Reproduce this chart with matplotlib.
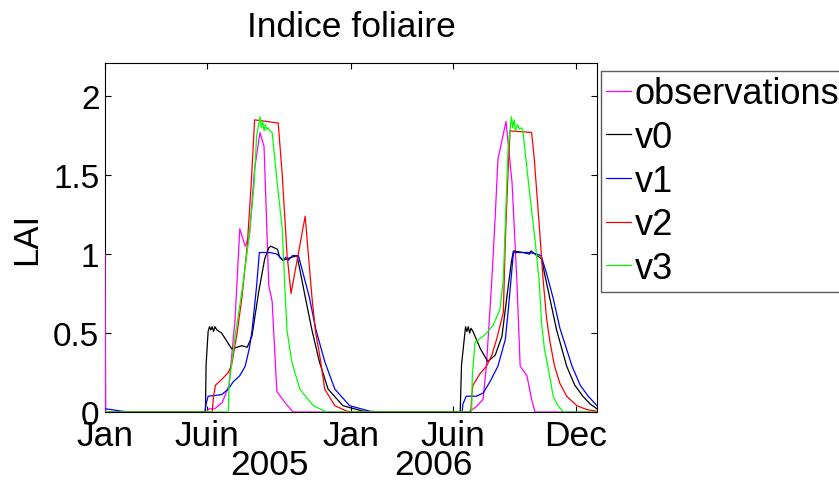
import numpy as np
import matplotlib
matplotlib.use("Agg")
import matplotlib.pyplot as plt
import matplotlib.dates as mdates

plt.rcParams['font.family'] = ['Liberation Sans', 'DejaVu Sans']

# ---- data (days since 2005-01-01, LAI values) ----
obs_days = [0, 1, 151, 154, 163, 168, 174, 184, 193, 200, 208, 214, 222, 230, 236, 243, 248, 255, 267, 279,
            539, 550, 561, 566, 574, 579, 583, 595, 604, 611, 616, 626, 633, 638, 730]
obs_vals = [1.0, 0.0, 0.0, 0.02, 0.02, 0.04, 0.06, 0.17, 0.59, 1.16, 1.05, 1.11, 1.54, 1.77, 1.68, 0.8, 0.7, 0.13, 0.06, 0.0,
            0.0, 0.03, 0.08, 0.3, 0.84, 1.24, 1.6, 1.84, 1.45, 0.84, 0.29, 0.23, 0.08, 0.0, 0.0]

v0_days = [0, 149, 150, 153, 155, 157, 159, 161, 163, 166, 173, 188, 196, 203, 211, 214, 218, 228, 237, 243, 246,
           256, 259, 264, 270, 277, 285, 297, 307, 318, 331, 353, 383, 400,
           527, 529, 535, 537, 539, 541, 543, 546, 557, 568, 579, 589, 596, 603, 606, 620, 630, 632, 641, 648,
           652, 660, 670, 685, 697, 709, 720, 730]
v0_vals = [0.0, 0.0, 0.3, 0.51, 0.54, 0.52, 0.54, 0.51, 0.54, 0.52, 0.5, 0.40, 0.41, 0.42, 0.41, 0.44, 0.48, 0.76, 0.97, 1.04, 1.05,
           1.03, 0.98, 0.96, 0.97, 0.98, 0.99, 0.73, 0.52, 0.32, 0.145, 0.04, 0.005, 0.0,
           0.0, 0.3, 0.54, 0.51, 0.54, 0.5, 0.53, 0.51, 0.4, 0.32, 0.36, 0.48, 0.72, 0.95, 1.02, 1.01, 1.0, 1.02, 0.99, 0.97,
           0.88, 0.72, 0.52, 0.29, 0.17, 0.1, 0.05, 0.02]

v1_days = [0, 10, 25, 37, 148, 150, 153, 173, 183, 190, 200, 208, 214, 218, 225, 229, 245, 255, 260, 265, 268, 272,
           278, 287, 303, 313, 326, 341, 363, 393, 410,
           530, 531, 536, 551, 561, 571, 583, 594, 598, 606, 630, 641, 647, 655, 665, 675, 693, 705, 717, 730]
v1_vals = [0.02, 0.015, 0.005, 0.0, 0.0, 0.05, 0.1, 0.11, 0.145, 0.19, 0.23, 0.29, 0.4, 0.51, 0.8, 1.01, 1.01, 1.0, 0.98, 0.96, 0.98, 0.96,
           0.99, 0.99, 0.73, 0.52, 0.32, 0.145, 0.04, 0.005, 0.0,
           0.0, 0.05, 0.1, 0.1, 0.12, 0.19, 0.29, 0.46, 0.63, 1.01, 1.01, 1.0, 0.99, 0.88, 0.72, 0.53, 0.29, 0.17, 0.1, 0.04]

v2_days = [0, 159, 161, 164, 174, 183, 188, 196, 203, 211, 217, 222, 257, 263, 270, 276, 297, 307, 312, 320, 326,
           341, 359, 370,
           543, 544, 546, 556, 566, 574, 581, 591, 594, 598, 601, 633, 637, 645, 650, 655, 660, 667, 675, 685,
           700, 715, 730]
v2_vals = [0.0, 0.0, 0.1, 0.17, 0.21, 0.25, 0.3, 0.5, 0.72, 1.05, 1.45, 1.85, 1.83, 1.5, 1.0, 0.75, 1.24, 0.73, 0.52, 0.32, 0.145,
           0.04, 0.005, 0.0,
           0.0, 0.1, 0.17, 0.24, 0.29, 0.36, 0.46, 0.63, 1.09, 1.52, 1.78, 1.77, 1.6, 1.14, 0.84, 0.6, 0.45, 0.29, 0.18, 0.1,
           0.04, 0.015, 0.005]

v3_days = [0, 183, 184, 193, 203, 214, 221, 225, 230, 232, 234, 236, 238, 240, 242, 245, 248, 255, 263, 267, 270,
           277, 289, 309, 329,
           544, 545, 549, 564, 576, 586, 591, 598, 603, 605, 607, 609, 612, 615, 618, 620, 623, 631, 638, 644,
           648, 652, 657, 665, 672, 680, 730]
v3_vals = [0.0, 0.0, 0.17, 0.48, 0.76, 1.11, 1.43, 1.75, 1.87, 1.8, 1.84, 1.78, 1.82, 1.79, 1.8, 1.78, 1.77, 1.47, 1.16, 0.78, 0.52,
           0.32, 0.145, 0.04, 0.0,
           0.0, 0.23, 0.44, 0.49, 0.55, 0.65, 0.84, 1.66, 1.87, 1.8, 1.85, 1.78, 1.82, 1.79, 1.8, 1.78, 1.66, 1.35, 1.09, 0.84,
           0.55, 0.4, 0.29, 0.1, 0.04, 0.0, 0.0]

series_labels = ['observations', 'v0', 'v1', 'v2', 'v3']
series_colors = ['#ff00ff', '#000000', '#0000ff', '#ff0000', '#00ff00']

tick_dates = ['2005-01-01', '2005-06-01', '2006-01-01', '2006-06-01', '2006-12-01']
tick_labels = ['Jan', 'Juin', 'Jan', 'Juin', 'Dec']
year_labels = ['2005', '2006']
yticks = [0, 0.5, 1, 1.5, 2]
ytick_labels = ['0', '0.5', '1', '1.5', '2']

start = np.datetime64('2005-01-01')


def to_dates(days):
    return mdates.date2num(start + np.array(days).astype('timedelta64[D]'))


W, H = 839, 485
fig = plt.figure(figsize=(W / 100, H / 100), dpi=100)
ax = fig.add_axes([105 / W, 72 / H, 492 / W, 349 / H])

all_days = [obs_days, v0_days, v1_days, v2_days, v3_days]
all_vals = [obs_vals, v0_vals, v1_vals, v2_vals, v3_vals]
for d, v, lab, col in zip(all_days, all_vals, series_labels, series_colors):
    ax.plot(to_dates(d), v, color=col, lw=0.9, label=lab, zorder=3)

ax.set_xlim(to_dates([0])[0], mdates.date2num(np.datetime64('2007-01-01')))
ax.set_ylim(0, 2.21)
ax.set_xticks(mdates.date2num(np.array(tick_dates, dtype='datetime64[D]')))
ax.set_xticklabels(tick_labels)
ax.set_yticks(yticks)
ax.set_yticklabels(ytick_labels)
ax.tick_params(direction='in', top=True, right=True, length=4, width=0.8)
ax.tick_params(axis='x', pad=5, labelsize=25.5)
ax.tick_params(axis='y', pad=4, labelsize=24)
for s in ax.spines.values():
    s.set_linewidth(0.8)
    s.set_zorder(2)

for lab, xf in zip(year_labels, [0.335, 0.667]):
    ax.text(xf, -0.103, lab, transform=ax.transAxes, ha='center', va='top', fontsize=25.5)

ax.set_ylabel('LAI', fontsize=25)
ax.yaxis.set_label_coords(-0.125, 0.5)

fig.text(351 / W, 1 - 37 / H, 'Indice foliaire', ha='center', va='baseline', fontsize=25.5)

leg = ax.legend(loc='upper left', bbox_to_anchor=(601 / W, 1 - 72 / H), bbox_transform=fig.transFigure,
                fontsize=26, frameon=True, fancybox=False, borderaxespad=0, borderpad=0.15,
                handlelength=0.68, handletextpad=0.1, labelspacing=0.24)
leg.get_frame().set_edgecolor('#333333')
leg.get_frame().set_linewidth(1.0)

fig.savefig('out.png', dpi=100)
